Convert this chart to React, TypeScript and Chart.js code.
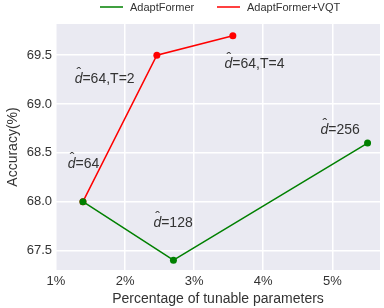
import React, { useEffect, useRef } from "react";
import { Chart, registerables } from "chart.js";
Chart.register(...registerables);

const seriesNames = ["AdaptFormer", "AdaptFormer+VQT"];
const adaptX = [1.39, 2.7, 5.51];
const adaptY = [68.0, 67.4, 68.6];
const vqtX = [1.39, 2.46, 3.56];
const vqtY = [68.0, 69.5, 69.7];
const xTicks = [1, 2, 3, 4, 5];
const yTicks = [67.5, 68.0, 68.5, 69.0, 69.5];
const noteText = ["=64,T=2", "=64,T=4", "=64", "=128", "=256"];
const noteX = [1.27, 3.44, 1.17, 2.41, 4.83];
const noteY = [69.22, 69.37, 68.35, 67.74, 68.69];

const FONT = "'Liberation Sans', Arial, sans-serif";
const TXT = "#333333";
const colors = ["#008000", "#ff0000"];

const bgPlugin = {
  id: "bg",
  beforeDraw(chart: any) {
    const { ctx, chartArea: a } = chart;
    ctx.save();
    ctx.fillStyle = "#EAEAF2";
    ctx.fillRect(a.left, a.top, a.right - a.left, a.bottom - a.top);
    ctx.restore();
  },
  afterDraw(chart: any) {
    const ctx = chart.ctx;
    const xs = chart.scales.x;
    const ys = chart.scales.y;
    ctx.save();
    ctx.fillStyle = TXT;
    ctx.textBaseline = "alphabetic";
    ctx.textAlign = "left";
    for (let i = 0; i < noteText.length; i++) {
      const px = xs.getPixelForValue(noteX[i]);
      const py = ys.getPixelForValue(noteY[i]);
      ctx.font = `italic 14px ${FONT}`;
      ctx.fillText("d", px, py);
      const dw = ctx.measureText("d").width;
      ctx.font = `14px ${FONT}`;
      ctx.fillText("\u02C6", px + dw * 0.5 - 2, py - 5);
      ctx.fillText(noteText[i], px + dw, py);
    }
    // legend
    ctx.font = `11px ${FONT}`;
    ctx.textBaseline = "middle";
    const ly = 7;
    const lx = [100, 217];
    for (let i = 0; i < 2; i++) {
      ctx.strokeStyle = colors[i];
      ctx.lineWidth = 1.5;
      ctx.beginPath();
      ctx.moveTo(lx[i], ly);
      ctx.lineTo(lx[i] + 23, ly);
      ctx.stroke();
      ctx.fillStyle = TXT;
      ctx.fillText(seriesNames[i], lx[i] + 30, ly + 0.5);
    }
    ctx.restore();
  },
};

export default function App() {
  const ref = useRef<HTMLCanvasElement>(null);
  useEffect(() => {
    document.body.style.margin = "0";
    const chart = new Chart(ref.current!, {
      type: "line",
      data: {
        datasets: [
          {
            label: seriesNames[0],
            data: adaptX.map((x, i) => ({ x, y: adaptY[i] })),
            borderColor: colors[0],
            backgroundColor: colors[0],
            borderWidth: 1.5,
            pointRadius: 3.5,
            pointBorderWidth: 0,
          },
          {
            label: seriesNames[1],
            data: vqtX.map((x, i) => ({ x, y: vqtY[i] })),
            borderColor: colors[1],
            backgroundColor: colors[1],
            borderWidth: 1.5,
            pointRadius: 3.5,
            pointBorderWidth: 0,
          },
        ],
      },
      options: {
        animation: false,
        responsive: false,
        layout: { padding: { top: 24, right: 0, left: 0, bottom: 0 } },
        plugins: { legend: { display: false }, tooltip: { enabled: false } },
        scales: {
          x: {
            type: "linear",
            min: 1.0,
            max: 5.69,
            afterBuildTicks: (s: any) => {
              s.ticks = xTicks.map((v) => ({ value: v }));
            },
            afterFit: (s: any) => {
              s.height = 38;
            },
            grid: { color: "#ffffff", lineWidth: 1.5, drawTicks: false },
            border: { display: false },
            ticks: {
              color: TXT,
              font: { size: 13, family: FONT },
              padding: 4,
              callback: (v: any) => `${v}%`,
            },
            title: {
              display: true,
              text: "Percentage of tunable parameters",
              color: TXT,
              font: { size: 14, family: FONT },
              padding: { top: 0, bottom: 0 },
            },
          },
          y: {
            type: "linear",
            min: 67.3,
            max: 69.82,
            afterBuildTicks: (s: any) => {
              s.ticks = yTicks.map((v) => ({ value: v }));
            },
            afterFit: (s: any) => {
              s.width = 56;
            },
            grid: { color: "#ffffff", lineWidth: 1.5, drawTicks: false },
            border: { display: false },
            ticks: {
              color: TXT,
              font: { size: 13, family: FONT },
              padding: 4,
              callback: (v: any) => Number(v).toFixed(1),
            },
            title: {
              display: true,
              text: "Accuracy(%)",
              color: TXT,
              font: { size: 14, family: FONT },
              padding: { top: 5, bottom: 0 },
            },
          },
        },
      },
      plugins: [bgPlugin],
    } as any);
    return () => chart.destroy();
  }, []);
  return (
    <div style={{ position: "absolute", left: 0, top: 0, width: 384, height: 308 }}>
      <canvas ref={ref} width={384} height={308} style={{ width: 384, height: 308 }} />
    </div>
  );
}
